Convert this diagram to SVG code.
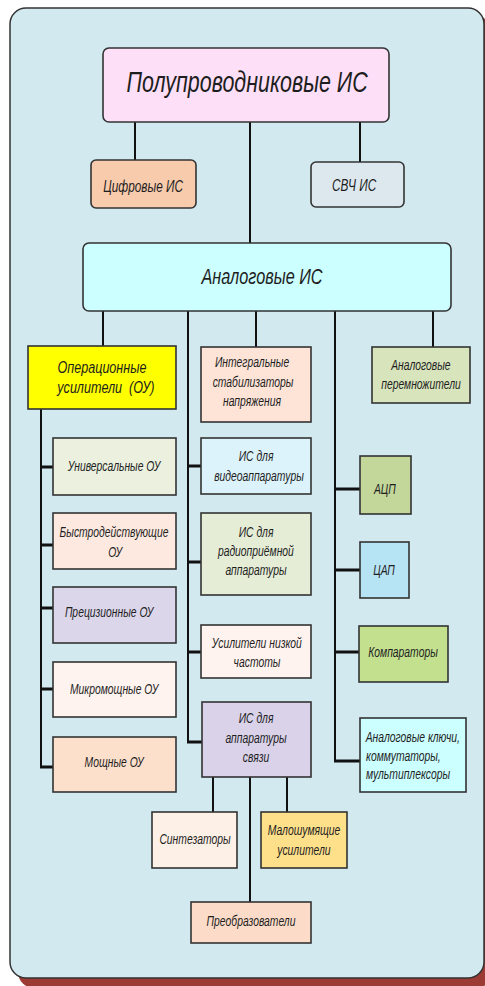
<svg xmlns="http://www.w3.org/2000/svg" width="485" height="986" viewBox="0 0 485 986">
<style>
text{font-family:"Liberation Sans",Arial,sans-serif;font-style:italic;fill:#1e1e1e;text-anchor:middle;font-size:14px;transform-box:fill-box;transform-origin:center;transform:scaleX(0.74)}
text.l{text-anchor:start;transform-origin:left center}
.b{stroke:#333;stroke-width:1.6}
.c line{stroke:#111;stroke-width:2}
.c line.t{stroke-width:3}
</style>
<rect x="18" y="16" width="474" height="972" rx="16" fill="#9b3b33"/>
<rect x="10" y="8" width="474" height="970" rx="16" fill="#d2e9f0" stroke="#333" stroke-width="1.5"/>
<g class="c" id="connectors">
<line x1="135" y1="122" x2="135" y2="160"/>
<line x1="250" y1="122" x2="250" y2="243"/>
<line x1="360" y1="122" x2="360" y2="162"/>
<line x1="103" y1="311" x2="103" y2="346"/>
<line x1="188" y1="311" x2="188" y2="743"/>
<line x1="256" y1="311" x2="256" y2="347"/>
<line x1="335" y1="311" x2="335" y2="762"/>
<line x1="433" y1="311" x2="433" y2="347"/>
<line x1="41" y1="409" x2="41" y2="768"/>
<line class="t" x1="40" y1="467" x2="53" y2="467"/>
<line class="t" x1="40" y1="545" x2="53" y2="545"/>
<line class="t" x1="40" y1="608" x2="53" y2="608"/>
<line class="t" x1="40" y1="689" x2="53" y2="689"/>
<line class="t" x1="40" y1="767" x2="53" y2="767"/>
<line class="t" x1="187" y1="466" x2="201" y2="466"/>
<line class="t" x1="187" y1="562" x2="201" y2="562"/>
<line class="t" x1="187" y1="652" x2="201" y2="652"/>
<line class="t" x1="187" y1="742" x2="202" y2="742"/>
<line class="t" x1="334" y1="489" x2="360" y2="489"/>
<line class="t" x1="334" y1="570" x2="360" y2="570"/>
<line class="t" x1="334" y1="652" x2="359" y2="652"/>
<line class="t" x1="334" y1="761" x2="360" y2="761"/>
<line x1="213" y1="777" x2="213" y2="812"/>
<line x1="250" y1="777" x2="250" y2="902"/>
<line x1="287" y1="777" x2="287" y2="812"/>
</g>
<g id="root"><rect class="b" x="103" y="48" width="286" height="74" rx="6" fill="#fde0f7"/><text x="247" y="92" style="font-size:29px">Полупроводниковые ИС</text></g>
<g id="digital"><rect class="b" x="91" y="160" width="105" height="48" rx="5" fill="#f8cbad"/><text x="143" y="192" style="font-size:16px">Цифровые ИС</text></g>
<g id="svch"><rect class="b" x="311" y="162" width="93" height="45" rx="5" fill="#dde8ee"/><text x="354" y="191" style="font-size:16px">СВЧ ИС</text></g>
<g id="analog"><rect class="b" x="83" y="243" width="368" height="68" rx="6" fill="#ccffff"/><text x="262" y="284" style="font-size:22px">Аналоговые ИС</text></g>
<g id="ou"><rect class="b" x="28" y="346" width="148" height="63" fill="#ffff00"/><text x="102" y="373" style="font-size:17px">Операционные</text><text x="106" y="393" style="font-size:17px">усилители &#160;(ОУ)</text></g>
<g id="univ"><rect class="b" x="53" y="438" width="123" height="57" fill="#ebf1de"/><text x="114" y="471">Универсальные ОУ</text></g>
<g id="fast"><rect class="b" x="53" y="513" width="123" height="56" fill="#fde9df"/><text x="114" y="537">Быстродействующие</text><text x="115" y="557">ОУ</text></g>
<g id="prec"><rect class="b" x="53" y="587" width="123" height="56" fill="#dcd6ea"/><text x="109" y="617">Прецизионные ОУ</text></g>
<g id="micro"><rect class="b" x="53" y="662" width="123" height="55" fill="#fef3ef"/><text x="114" y="694">Микромощные ОУ</text></g>
<g id="power"><rect class="b" x="53" y="737" width="123" height="55" fill="#fde0cc"/><text x="114" y="767">Мощные ОУ</text></g>
<g id="stab"><rect class="b" x="201" y="347" width="110" height="75" fill="#fde4d7"/><text x="252" y="367">Интегральные</text><text x="253" y="387">стабилизаторы</text><text x="252" y="406">напряжения</text></g>
<g id="video"><rect class="b" x="201" y="438" width="110" height="56" fill="#ddf3fb"/><text x="256" y="461">ИС для</text><text x="259" y="481">видеоаппаратуры</text></g>
<g id="radio"><rect class="b" x="201" y="513" width="110" height="82" fill="#e5edd6"/><text x="256" y="537">ИС для</text><text x="256" y="556">радиоприёмной</text><text x="256" y="575">аппаратуры</text></g>
<g id="lf"><rect class="b" x="201" y="625" width="110" height="53" fill="#fef3ee"/><text x="257" y="648">Усилители низкой</text><text x="257" y="667">частоты</text></g>
<g id="comm"><rect class="b" x="202" y="702" width="109" height="75" fill="#d9d2e9"/><text x="256" y="723">ИС для</text><text x="256" y="743">аппаратуры</text><text x="256" y="762">связи</text></g>
<g id="mult"><rect class="b" x="372" y="347" width="98" height="56" fill="#d8e4bc"/><text x="421" y="370">Аналоговые</text><text x="421" y="389">перемножители</text></g>
<g id="adc"><rect class="b" x="360" y="456" width="51" height="58" fill="#c4d79b"/><text x="385" y="494">АЦП</text></g>
<g id="dac"><rect class="b" x="360" y="542" width="49" height="56" fill="#b7e4f5"/><text x="384" y="575">ЦАП</text></g>
<g id="compar"><rect class="b" x="359" y="626" width="89" height="56" fill="#c3e08f"/><text x="403" y="657">Компараторы</text></g>
<g id="keys"><rect class="b" x="360" y="718" width="106" height="74" fill="#ccffff"/><text class="l" x="366" y="742">Аналоговые ключи,</text><text class="l" x="366" y="761">коммутаторы,</text><text class="l" x="366" y="779">мультиплексоры</text></g>
<g id="synth"><rect class="b" x="152" y="812" width="85" height="56" fill="#fdf0e6"/><text x="195" y="844">Синтезаторы</text></g>
<g id="lna"><rect class="b" x="261" y="812" width="86" height="56" fill="#fee08b"/><text x="304" y="835">Малошумящие</text><text x="304" y="855">усилители</text></g>
<g id="conv"><rect class="b" x="191" y="902" width="120" height="41" fill="#fcdcc8"/><text x="251" y="926">Преобразователи</text></g>
</svg>
